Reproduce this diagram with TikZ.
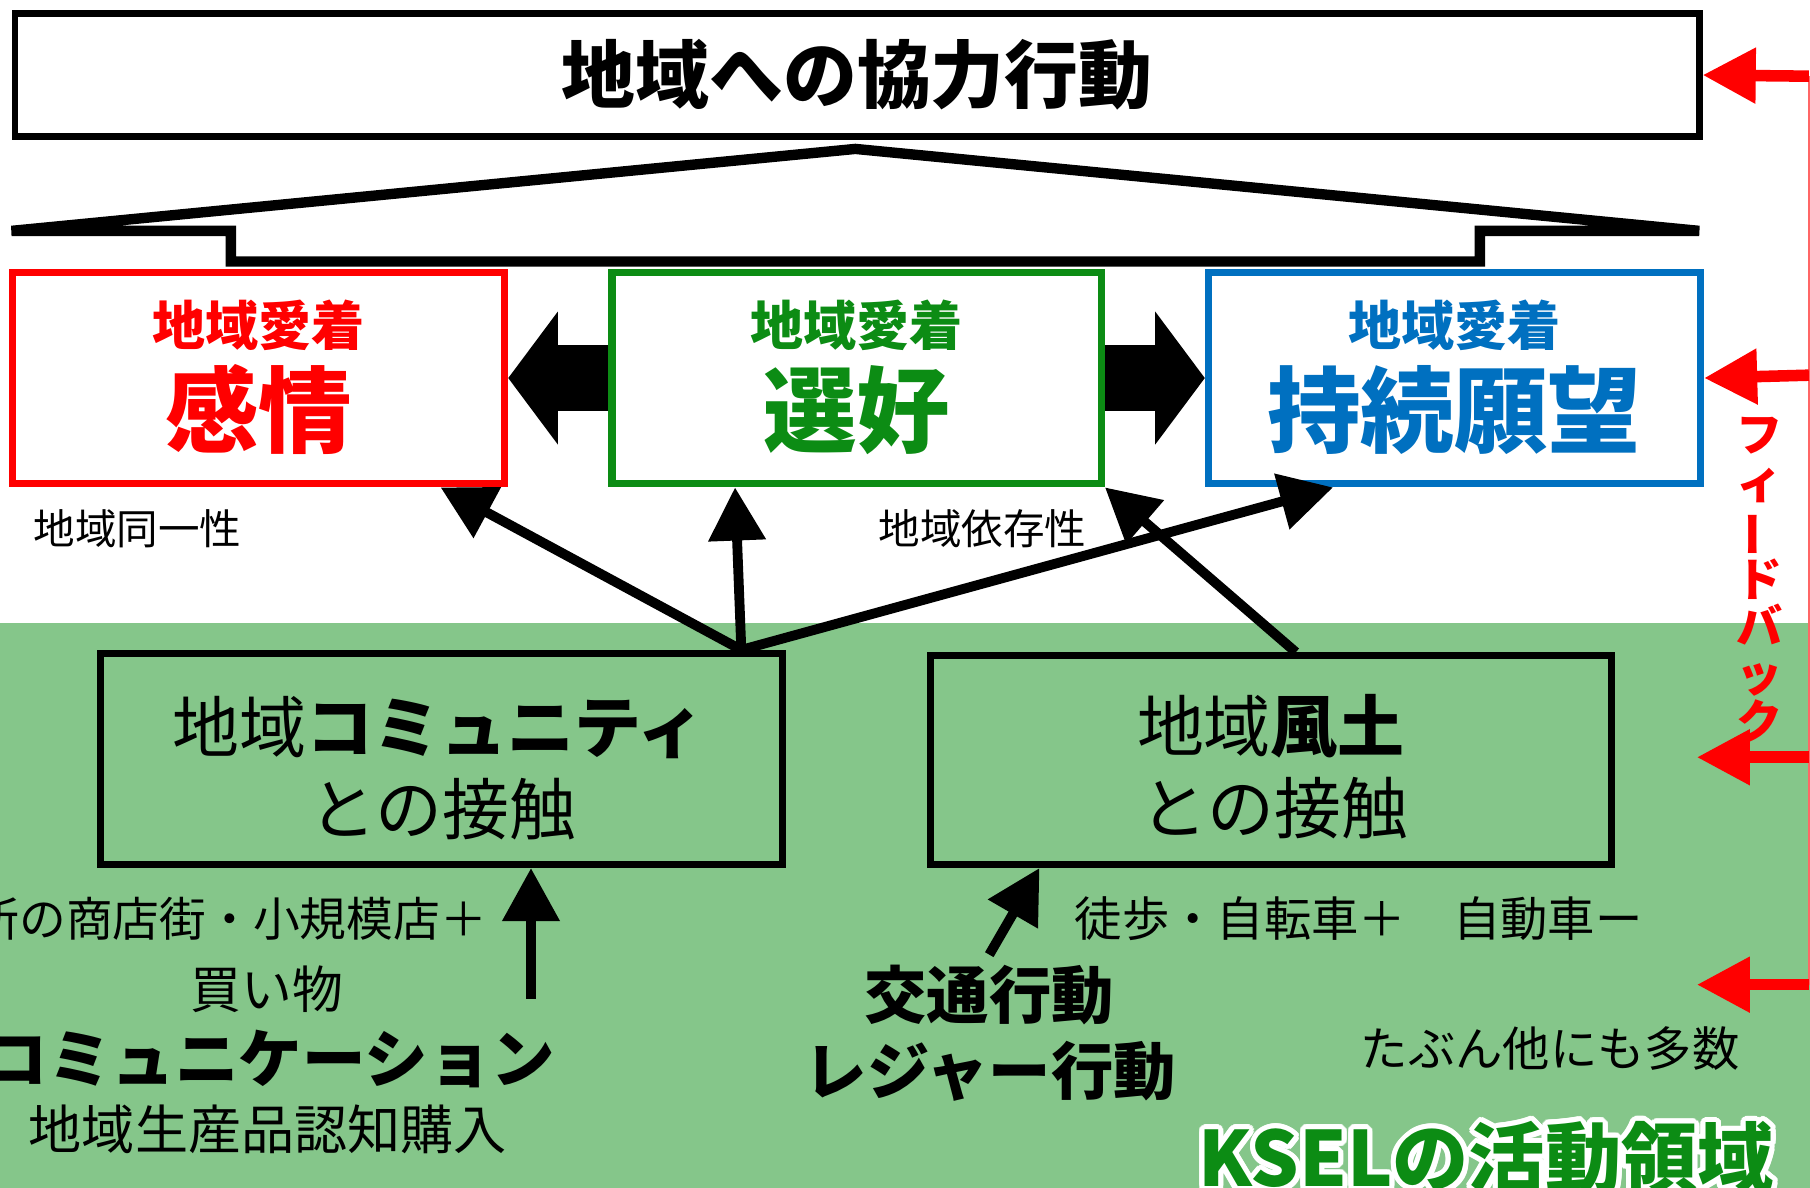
\documentclass[tikz,border=0pt]{standalone}
\usepackage{fontspec}
\setmainfont{Noto Sans CJK JP}
\usepackage{graphicx}
\usetikzlibrary{arrows.meta, positioning}
\definecolor{kred}{HTML}{FF0000}
\definecolor{kgreen}{HTML}{0C8C14}
\definecolor{kblue}{HTML}{0070C0}
\definecolor{kselbg}{HTML}{85C68A}
\newcommand{\jpsize}[2]{\fontsize{#1}{#2}\selectfont}

\begin{document}
\begin{tikzpicture}[x=1pt, y=-1pt, every node/.style={inner sep=0pt},
  attach/.style={draw, line width=6.5pt, fill=white, minimum width=426pt, minimum height=183pt},
  contact/.style={draw, line width=6pt, minimum height=183pt},
  link/.style={line width=8.5pt, -{Triangle[length=46pt, width=48pt]}},
  fatlink/.style={line width=57pt, -{Triangle[length=43pt, width=113pt]}},
  feedback/.style={kred, line width=10pt, -{Triangle[length=46pt, width=46pt]}}]
\useasboundingbox (0,0) rectangle (1568,1029);
\fill[white] (0,0) rectangle (1568,540);
\fill[kselbg] (0,540) rectangle (1568,1029);

% top box
\node (act)[draw, line width=6pt, minimum width=1459pt, minimum height=106pt, font=\bfseries\jpsize{64}{64}] at (742.5,65) {地域への協力行動};
\draw[line width=9pt] (200,226.5) -- (200,200) -- (10,200) -- (741,129) -- (1472,200) -- (1282,200) -- (1282,226.5) -- cycle;

% three kinds of attachment
\node (emo)[attach, draw=kred] at (224,327.5) {};
\node (pref)[attach, draw=kgreen, minimum width=424pt] at (742,327.5) {};
\node (wish)[attach, draw=kblue] at (1260,327.5) {};
\node (emosub)[text=kred, font=\bfseries\jpsize{46}{46}] at (224,282) {地域愛着};
\node (emomain)[text=kred, font=\bfseries\jpsize{81}{81}] at (224,355) {感情};
\node (prefsub)[text=kgreen, font=\bfseries\jpsize{46}{46}] at (742,282) {地域愛着};
\node (prefmain)[text=kgreen, font=\bfseries\jpsize{81}{81}] at (742,355) {選好};
\node (wishsub)[text=kblue, font=\bfseries\jpsize{46}{46}] at (1260,282) {地域愛着};
\node (wishmain)[text=kblue, font=\bfseries\jpsize{81}{81}] at (1260,355) {持続願望};
\draw[fatlink] (pref.west) -- (emo.east);
\draw[fatlink] (pref.east) -- (wish.west);

\node (ident)[font=\jpsize{36}{36}] at (119,458) {地域同一性};
\node (depend)[font=\jpsize{36}{36}] at (851,458) {地域依存性};

% contacts
\node (comm)[contact, minimum width=591pt] at (382.5,657.5) {};
\node (commtxt)[font=\jpsize{58}{58}] at (380,630) {地域{\bfseries コミュニティ}};
\node (commtxt2)[font=\jpsize{58}{58}] at (384,701) {との接触};
\node (fudo)[contact, minimum width=590pt, minimum height=181pt] at (1101,658.5) {};
\node (fudotxt)[font=\jpsize{58}{58}] at (1101,629) {地域{\bfseries 風土}};
\node (fudotxt2)[font=\jpsize{58}{58}] at (1104,700) {との接触};

\draw[link] (comm.20) -- (emo.-31);
\draw[link] (comm.20) -- (pref.222);
\draw[link] (comm.20) -- (wish.222);
\draw[link] (fudo.77) -- (pref.south east);

% activities
\node (shop)[font=\jpsize{40.5}{40.5}, anchor=east] at (422,796) {近所の商店街・小規模店＋};
\node (buy)[font=\jpsize{44}{44}] at (231,857) {買い物};
\node (talk)[font=\bfseries\jpsize{55}{55}, anchor=east] at (481,917) {コミュニケーション};
\node (local)[font=\jpsize{46}{46}] at (232,978) {地域生産品認知購入};
\coordinate (shoptail) at (460,865);
\draw[link] (shoptail) -- (comm.south -| shoptail);

\node (walk)[font=\jpsize{41}{41}] at (1177,796) {徒歩・自転車＋　自動車ー};
\node (traffic)[font=\bfseries\jpsize{54}{54}] at (857,862) {交通行動};
\node (leisure)[font=\bfseries\jpsize{54}{54}] at (858,928) {レジャー行動};
\node (many)[font=\jpsize{41}{41}] at (1343,908) {たぶん他にも多数};
\coordinate (trafftail) at (857,827);
\draw[link] (trafftail) -- (fudo.205);

\foreach \a in {0,15,...,345}
  \node (halo\a)[text=white, font=\bfseries\jpsize{66}{66}, anchor=base west, shift={(\a:4.5pt)}] at (1038,1028) {KSELの活動領域};
\node (ksel)[text=kgreen, font=\bfseries\jpsize{66}{66}, anchor=base west] at (1038,1028) {KSELの活動領域};

% feedback
\coordinate (fbt1) at (1567,66);
\coordinate (fbt2) at (1567,325);
\coordinate (fbt3) at (1567,656);
\coordinate (fbt4) at (1567,853);
\coordinate (fbend3) at (1470,656);
\coordinate (fbend4) at (1470,853);
\draw[kred!60, line width=2pt] (fbt1) -- (fbt4);
\draw[feedback] (fbt1) -- (act.east);
\draw[feedback] (fbt2) -- (wish.east);
\draw[feedback] (fbt3) -- (fbend3);
\draw[feedback] (fbt4) -- (fbend4);
\node (fbtxt)[text=kred, align=center, font=\bfseries\jpsize{40}{41}] at (1524,502) {フ\\ィ\\\rotatebox[origin=c]{90}{ー}\\ド\\バ\\ッ\\ク};
\end{tikzpicture}
\end{document}
